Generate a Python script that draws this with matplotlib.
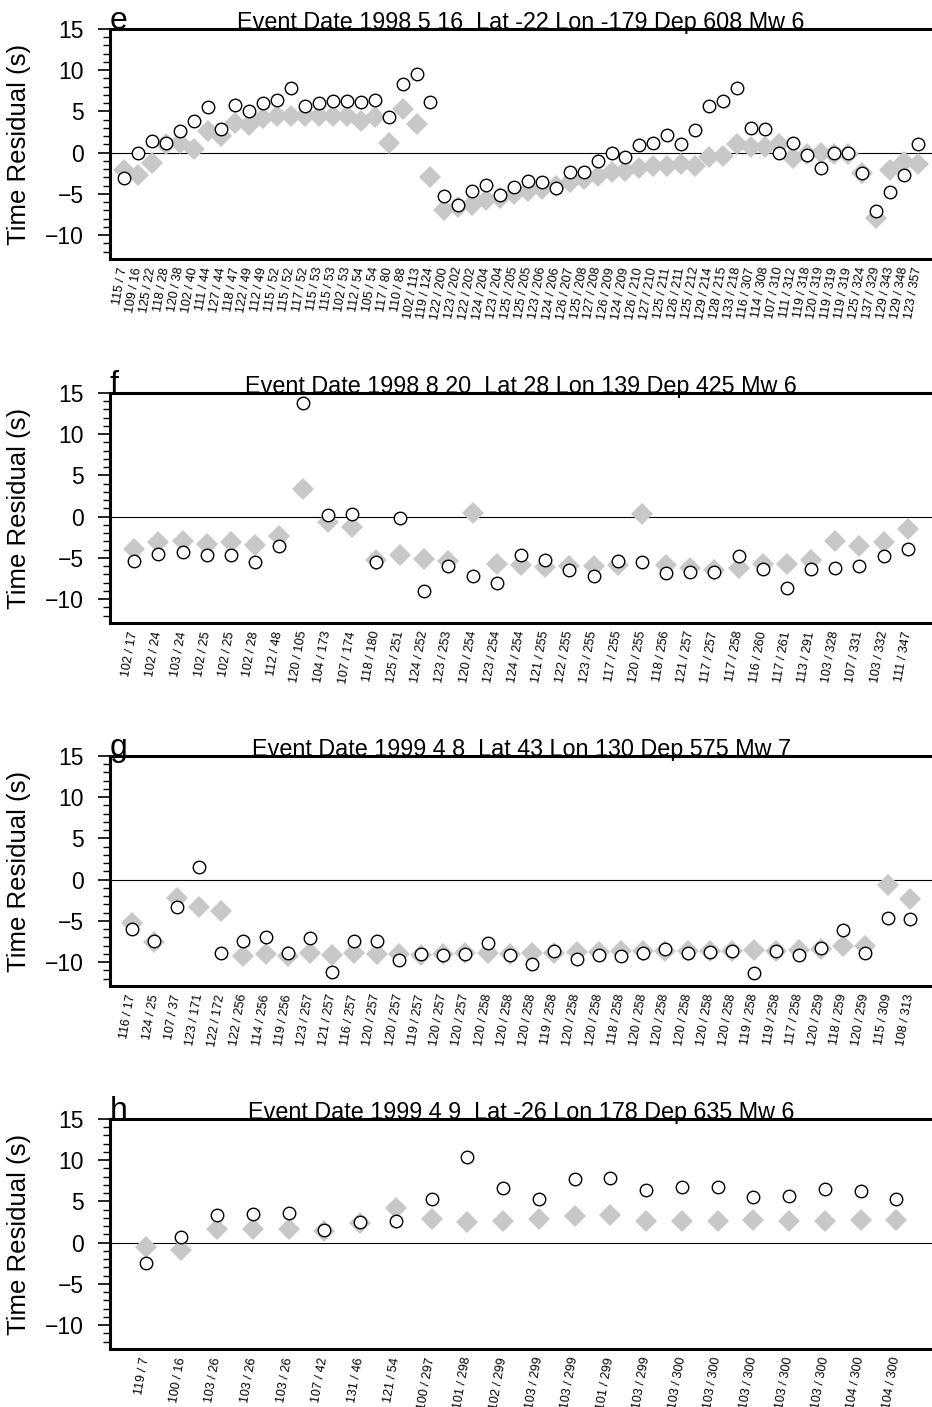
import matplotlib
matplotlib.use('Agg')
import matplotlib.pyplot as plt
from matplotlib.ticker import MultipleLocator

plt.rcParams['font.family'] = ['Liberation Sans', 'DejaVu Sans']

# panel e
e_title = 'Event Date 1998 5 16  Lat -22 Lon -179 Dep 608 Mw 6'
e_labels = ['115 / 7', '109 / 16', '125 / 22', '118 / 28', '120 / 38', '102 / 40', '111 / 44',
            '127 / 44', '118 / 47', '122 / 49', '112 / 49', '115 / 52', '115 / 52', '117 / 52',
            '115 / 53', '115 / 53', '102 / 53', '112 / 54', '105 / 54', '117 / 80', '110 / 88',
            '102 / 113', '119 / 124', '122 / 200', '123 / 202', '122 / 202', '124 / 204',
            '123 / 204', '125 / 205', '125 / 205', '123 / 206', '124 / 206', '126 / 207',
            '125 / 208', '127 / 208', '126 / 209', '124 / 209', '126 / 210', '127 / 210',
            '125 / 211', '126 / 211', '125 / 212', '129 / 214', '128 / 215', '133 / 218',
            '116 / 307', '114 / 308', '107 / 310', '111 / 312', '119 / 318', '120 / 319',
            '119 / 319', '119 / 319', '125 / 324', '137 / 329', '129 / 343', '129 / 348', '123 / 357']
e_grey = [-2.1, -2.7, -1.2, 1.0, 1.2, 0.4, 2.6, 2.0, 3.6, 3.4, 4.2, 4.4, 4.4, 4.4, 4.4,
          4.4, 4.5, 3.8, 4.3, 1.2, 5.3, 3.5, -2.9, -7.0, -6.6, -6.3, -5.8, -5.5, -5.0, -4.7,
          -4.4, -4.1, -3.6, -3.2, -2.8, -2.4, -2.2, -1.9, -1.6, -1.6, -1.4, -1.6, -0.5, -0.4,
          1.0, 0.7, 0.7, 1.0, -0.6, -0.2, 0.0, -0.2, -0.2, -2.5, -7.9, -2.1, -1.1, -1.4]
e_open = [-3.1, -0.1, 1.4, 1.2, 2.6, 3.9, 5.5, 2.9, 5.8, 5.1, 6.0, 6.4, 7.9, 5.7, 6.0,
          6.3, 6.3, 6.2, 6.4, 4.3, 8.3, 9.6, 6.2, -5.2, -6.3, -4.6, -3.9, -5.1, -4.2, -3.4,
          -3.6, -4.3, -2.4, -2.4, -1.0, 0.0, -0.5, 0.9, 1.2, 2.1, 1.0, 2.8, 5.6, 6.3,
          7.9, 3.0, 2.9, -0.1, 1.2, -0.3, -1.9, -0.1, -0.1, -2.5, -7.1, -4.8, -2.7, 1.1]

# panel f
f_title = 'Event Date 1998 8 20  Lat 28 Lon 139 Dep 425 Mw 6'
f_labels = ['102 / 17', '102 / 24', '103 / 24', '102 / 25', '102 / 25', '102 / 28', '112 / 48',
            '120 / 105', '104 / 173', '107 / 174', '118 / 180', '125 / 251', '124 / 252',
            '123 / 253', '120 / 254', '123 / 254', '124 / 254', '121 / 255', '122 / 255',
            '123 / 255', '117 / 255', '120 / 255', '118 / 256', '121 / 257', '117 / 257',
            '117 / 258', '116 / 260', '117 / 261', '113 / 291', '103 / 328', '107 / 331',
            '103 / 332', '111 / 347']
f_grey = [-3.9, -3.1, -3.0, -3.3, -3.1, -3.4, -2.3, 3.4, -0.6, -1.3, -5.3, -4.6, -5.1,
          -5.4, 0.4, -5.8, -5.9, -6.1, -6.0, -6.0, -5.9, 0.3, -5.9, -6.2, -6.5, -6.2,
          -5.8, -5.7, -5.3, -3.0, -3.6, -3.1, -1.5]
f_open = [-5.4, -4.5, -4.3, -4.7, -4.7, -5.5, -3.6, 13.8, 0.25, 0.3, -5.5, -0.2, -9.0,
          -6.0, -7.2, -8.0, -4.6, -5.3, -6.5, -7.2, -5.4, -5.5, -6.8, -6.7, -6.7, -4.8,
          -6.3, -8.6, -6.3, -6.2, -6.0, -4.8, -3.9]

# panel g
g_title = 'Event Date 1999 4 8  Lat 43 Lon 130 Dep 575 Mw 7'
g_labels = ['116 / 17', '124 / 25', '107 / 37', '123 / 171', '122 / 172', '122 / 256',
            '114 / 256', '119 / 256', '123 / 257', '121 / 257', '116 / 257', '120 / 257',
            '120 / 257', '119 / 257', '120 / 257', '120 / 257', '120 / 258', '120 / 258',
            '120 / 258', '119 / 258', '120 / 258', '120 / 258', '118 / 258', '120 / 258',
            '120 / 258', '120 / 258', '120 / 258', '120 / 258', '119 / 258', '119 / 258',
            '117 / 258', '120 / 259', '118 / 259', '120 / 259', '115 / 309', '108 / 313']
g_grey = [-5.2, -7.6, -2.2, -3.3, -3.8, -9.3, -9.0, -9.3, -8.9, -9.1, -8.9, -9.0, -9.0,
          -9.1, -9.0, -8.9, -8.9, -9.0, -8.9, -8.9, -8.8, -8.8, -8.7, -8.7, -8.7, -8.6,
          -8.6, -8.6, -8.5, -8.6, -8.5, -8.4, -8.1, -8.1, -0.6, -2.3]
g_open = [-6.0, -7.5, -3.3, 1.5, -8.9, -7.5, -6.9, -8.9, -7.1, -11.2, -7.5, -7.4, -9.8,
          -9.0, -9.1, -9.0, -7.7, -9.1, -10.2, -8.6, -9.6, -9.2, -9.3, -8.9, -8.4, -8.9,
          -8.8, -8.7, -11.3, -8.7, -9.1, -8.3, -6.1, -8.9, -4.7, -4.8]

# panel h
h_title = 'Event Date 1999 4 9  Lat -26 Lon 178 Dep 635 Mw 6'
h_labels = ['119 / 7', '100 / 16', '103 / 26', '103 / 26', '103 / 26', '107 / 42', '131 / 46',
            '121 / 54', '100 / 297', '101 / 298', '102 / 299', '103 / 299', '103 / 299',
            '101 / 299', '103 / 299', '103 / 300', '103 / 300', '103 / 300', '103 / 300',
            '103 / 300', '104 / 300', '104 / 300']
h_grey = [-0.5, -0.9, 1.7, 1.7, 1.7, 1.4, 2.4, 4.2, 2.9, 2.5, 2.6, 2.9, 3.2, 3.3, 2.6,
          2.6, 2.6, 2.7, 2.6, 2.6, 2.7, 2.7]
h_open = [-2.5, 0.7, 3.3, 3.5, 3.6, 1.5, 2.5, 2.6, 5.3, 10.4, 6.6, 5.3, 7.7, 7.9, 6.4,
          6.7, 6.7, 5.5, 5.7, 6.5, 6.3, 5.3]


def draw_panel(ax, letter, title, labels, grey, open_pts):
    n = len(labels)
    xs = list(range(1, n + 1))
    ax.axhline(0, color='black', lw=0.8, zorder=1)
    ax.plot(xs, grey, 'D', color='#c8c8c8', markersize=11, markeredgewidth=0, zorder=2)
    ax.plot(xs, open_pts, 'o', markerfacecolor='white', markeredgecolor='black',
            markersize=9, markeredgewidth=1.0, zorder=3)
    ax.set_xlim(0, n + 1)
    ax.set_ylim(-12.9, 15)
    ax.yaxis.set_major_locator(MultipleLocator(5))
    ax.yaxis.set_minor_locator(MultipleLocator(1))
    ax.tick_params(axis='y', which='major', length=9, width=1.2, labelsize=16.5, pad=10)
    ax.tick_params(axis='y', which='minor', length=5, width=1.0)
    ax.set_xticks(xs)
    ax.set_xticklabels(labels, rotation=80, fontsize=9, ha='right', va='center',
                       rotation_mode='anchor')
    ax.tick_params(axis='x', length=0, pad=6)
    ax.set_ylabel('Time Residual (s)', fontsize=18.5, labelpad=10)
    for side in ['left', 'top', 'bottom']:
        ax.spines[side].set_linewidth(2.2)
    ax.spines['right'].set_visible(False)
    ax.text(0.5, 1.0, title, transform=ax.transAxes, ha='center', va='baseline', fontsize=16.8)
    ax.text(0.0, 1.0, letter, transform=ax.transAxes, ha='left', va='baseline', fontsize=23)


fig = plt.figure(figsize=(9.32, 14.07), dpi=100)
panels = [
    ('e', e_title, e_labels, e_grey, e_open),
    ('f', f_title, f_labels, f_grey, f_open),
    ('g', g_title, g_labels, g_grey, g_open),
    ('h', h_title, h_labels, h_grey, h_open),
]
tops = [29, 393, 756, 1119]
for (letter, title, labels, grey, open_pts), top in zip(panels, tops):
    ax = fig.add_axes([110 / 932, 1 - (top + 230) / 1407, 822 / 932, 230 / 1407])
    draw_panel(ax, letter, title, labels, grey, open_pts)

fig.savefig('out.png', dpi=100)
